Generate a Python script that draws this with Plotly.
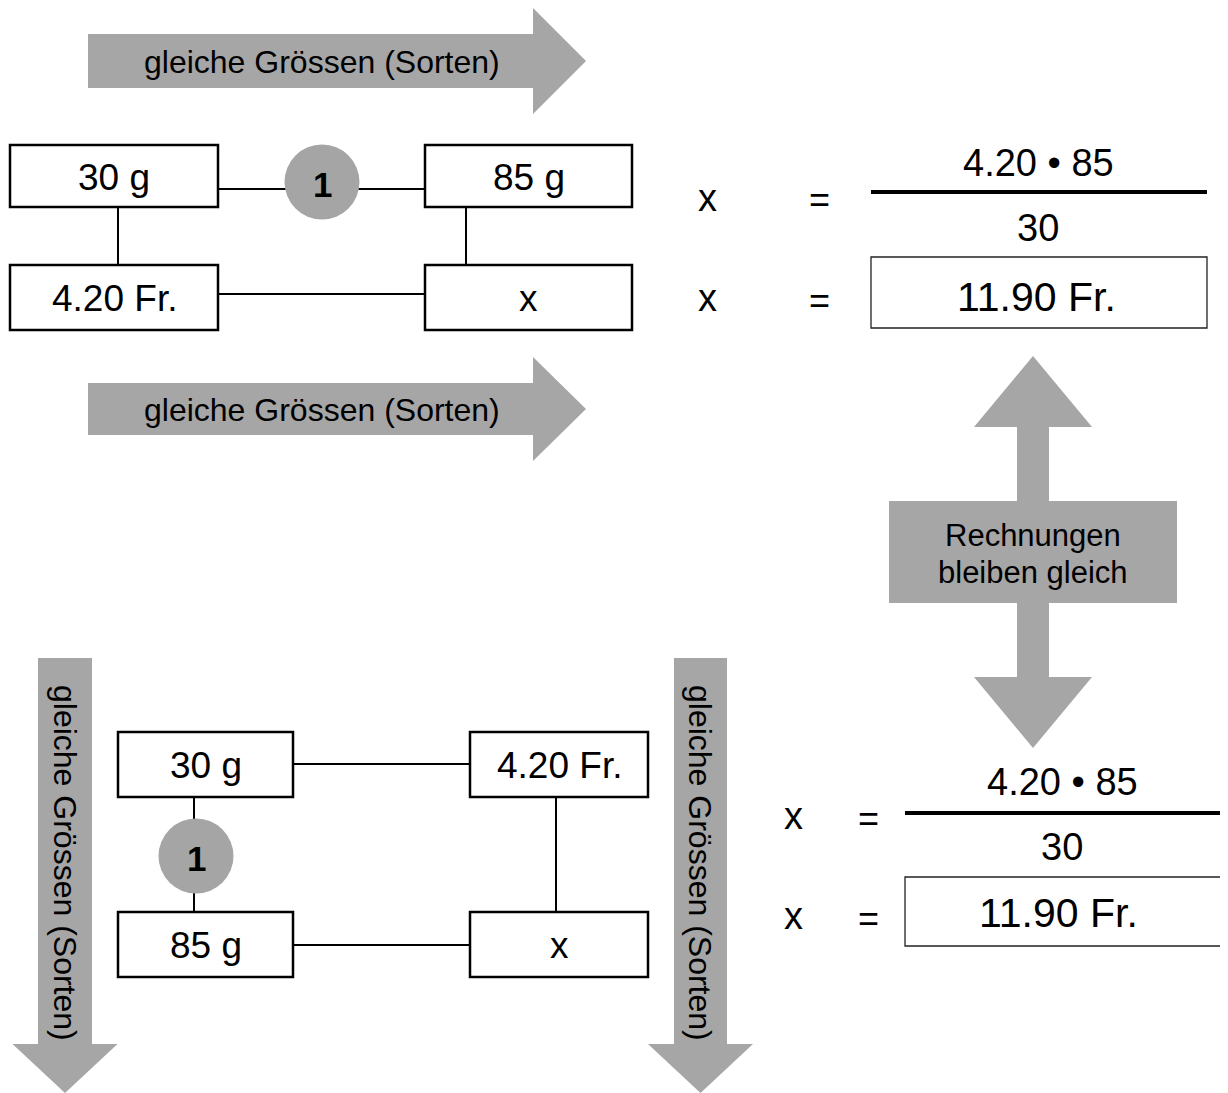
import plotly.graph_objects as go

# ---- content (values / labels) ----
arrow_label = "gleiche Grössen (Sorten)"
weights_g = [30, 85]
prices_fr = [4.20]
unknown_label = "x"
step_label = "1"
double_arrow_lines = ["Rechnungen", "bleiben gleich"]

w1, w2 = weights_g
p1 = prices_fr[0]
result = p1 * w2 / w1
lbl_w1 = f"{w1} g"
lbl_w2 = f"{w2} g"
lbl_p1 = f"{p1:.2f} Fr."
numerator_label = f"{p1:.2f} • {w2}"
denominator_label = f"{w1}"
result_label = f"{result:.2f} Fr."

top_grid_labels = [lbl_w1, lbl_w2, lbl_p1, unknown_label]
bottom_grid_labels = [lbl_w1, lbl_p1, lbl_w2, unknown_label]

# ---- styling ----
W, H = 1228, 1093
OFF = 8  # page body margin of the browser
GRAY = "#a6a6a6"
FONT = "Liberation Sans, Arial, Helvetica, sans-serif"

fig = go.Figure()


def poly(pts, color=GRAY):
    d = "M " + " L ".join(f"{x},{y}" for x, y in pts) + " Z"
    fig.add_shape(type="path", path=d, fillcolor=color, line=dict(width=0),
                  xref="x", yref="y", layer="below")


def h_arrow(x0, xb, xt, yc, hb, hh):
    poly([(x0, yc - hb), (xb, yc - hb), (xb, yc - hh), (xt, yc),
          (xb, yc + hh), (xb, yc + hb), (x0, yc + hb)])


def v_arrow(xc, y0, yb, yt, hb, hh):
    poly([(xc - hb, y0), (xc + hb, y0), (xc + hb, yb), (xc + hh, yb), (xc, yt),
          (xc - hh, yb), (xc - hb, yb)])


def box(x0, x1, y0, y1, lw=2.5, color="black"):
    fig.add_shape(type="rect", x0=x0, x1=x1, y0=y0, y1=y1,
                  line=dict(color=color, width=lw), fillcolor="white",
                  xref="x", yref="y")


def line(x0, y0, x1, y1, lw=2, color="black"):
    fig.add_shape(type="line", x0=x0, y0=y0, x1=x1, y1=y1,
                  line=dict(color=color, width=lw), xref="x", yref="y",
                  layer="below")


def circle(xc, yc, r):
    fig.add_shape(type="circle", x0=xc - r, x1=xc + r, y0=yc - r, y1=yc + r,
                  fillcolor="#a5a5a5", line=dict(width=0), xref="x", yref="y")


def text(x, y, s, size, angle=0, bold=False, family=FONT):
    fig.add_annotation(x=x, y=y, text=(f"<b>{s}</b>" if bold else s),
                       showarrow=False, xanchor="center", yanchor="middle",
                       textangle=angle,
                       font=dict(family=family, size=size, color="black"),
                       xref="x", yref="y")


# ---- top horizontal arrows ----
h_arrow(88, 533, 586, 61, 27, 53)
text(322, 62, arrow_label, 32)
h_arrow(88, 533, 586, 409, 26, 52)
text(322, 410, arrow_label, 32)

# ---- top grid ----
top_boxes = [(10, 218, 145, 207), (425, 632, 145, 207),
             (10, 218, 265, 330), (425, 632, 265, 330)]
line(218, 189, 425, 189)
line(118, 207, 118, 265)
line(466, 207, 466, 265)
line(218, 294, 425, 294)
for (x0, x1, y0, y1), lab in zip(top_boxes, top_grid_labels):
    box(x0, x1, y0, y1)
    text((x0 + x1) / 2, (y0 + y1) / 2 + 1, lab, 37)
circle(322, 182, 37.5)
text(322, 184, step_label, 35, bold=True)

# ---- top equation ----
text(707, 198, unknown_label, 38)
text(819, 199, "=", 36)
text(1038, 163, numerator_label, 38)
line(871, 192, 1207, 192, lw=4)
text(1038, 228, denominator_label, 38)
text(707, 298, unknown_label, 38)
text(819, 300, "=", 36)
box(871, 1207, 257, 328, lw=1.3, color="#222222")
text(1036, 297, result_label, 41)

# ---- double vertical arrow ----
poly([(1017, 427), (974, 427), (1033, 356), (1092, 427), (1049, 427),
      (1049, 501), (1177, 501), (1177, 603), (1049, 603), (1049, 677),
      (1092, 677), (1033, 748), (974, 677), (1017, 677), (1017, 603),
      (889, 603), (889, 501), (1017, 501)])
text(1033, 535, double_arrow_lines[0], 31)
text(1033, 572, double_arrow_lines[1], 31)

# ---- bottom vertical arrows ----
v_arrow(65, 658, 1044, 1093, 27, 52.5)
text(65, 863, arrow_label, 32, angle=90)
v_arrow(700.5, 658, 1044, 1093, 26.5, 52.5)
text(700, 863, arrow_label, 32, angle=90)

# ---- bottom grid ----
bottom_boxes = [(118, 293, 732, 797), (470, 648, 732, 797),
                (118, 293, 912, 977), (470, 648, 912, 977)]
line(293, 764, 470, 764)
line(293, 945, 470, 945)
line(194, 797, 194, 912)
line(556, 797, 556, 912)
for (x0, x1, y0, y1), lab in zip(bottom_boxes, bottom_grid_labels):
    box(x0, x1, y0, y1)
    text((x0 + x1) / 2, (y0 + y1) / 2 + 1, lab, 37)
circle(196, 856, 37.5)
text(196, 858, step_label, 35, bold=True)

# ---- bottom equation ----
text(793, 816, unknown_label, 38)
text(868, 818, "=", 36)
text(1062, 782, numerator_label, 38)
line(905, 813, 1222, 813, lw=4)
text(1062, 847, denominator_label, 38)
text(793, 916, unknown_label, 38)
text(868, 918, "=", 36)
box(905, 1222, 877, 946, lw=1.3, color="#222222")
text(1058, 913, result_label, 41)

fig.update_layout(
    width=W, height=H,
    margin=dict(l=0, r=0, t=0, b=0),
    paper_bgcolor="white", plot_bgcolor="white",
    showlegend=False,
    xaxis=dict(range=[OFF, W + OFF], visible=False, fixedrange=True),
    yaxis=dict(range=[H + OFF, OFF], visible=False, fixedrange=True),
)

fig.write_html("out.html")
